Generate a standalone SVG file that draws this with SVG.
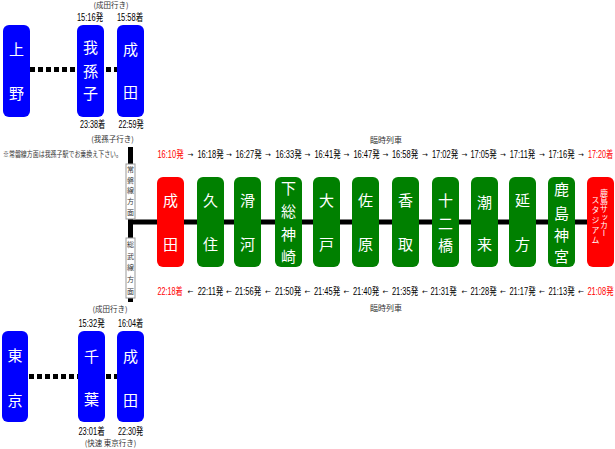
<svg xmlns="http://www.w3.org/2000/svg" width="615" height="449" viewBox="0 0 615 449">
<style>
.blue{fill:#0000ff}
.green{fill:#008000}
.red{fill:#ff0000}
.st{font-family:"Noto Sans CJK JP",sans-serif;font-size:15px;fill:#fff;text-anchor:middle}
.tm{font-family:"Liberation Sans","Noto Sans CJK JP",sans-serif;font-size:10px;fill:#000;text-anchor:middle}
.rt{fill:#ff0000}
.ar{font-family:"DejaVu Sans",sans-serif;font-size:7px;fill:#000;text-anchor:middle}
.note{font-family:"Noto Sans CJK JP",sans-serif;font-size:7.5px;fill:#333;text-anchor:middle}
.line{stroke:#000;stroke-width:5;fill:none}
.dot{stroke:#000;stroke-width:5;stroke-dasharray:5 3;fill:none}
.lbl{fill:#fff;stroke:#999;stroke-width:1}
.vt{font-family:"Noto Sans CJK JP",sans-serif;font-size:7px;fill:#333;writing-mode:vertical-rl}
.vs{font-family:"Noto Sans CJK JP",sans-serif;font-size:8px;fill:#fff;writing-mode:vertical-rl}
</style>
<rect width="615" height="449" fill="#fff"/>
<g id="connectors">
<line class="dot" x1="30" y1="69.5" x2="78" y2="69.5"/>
<line class="dot" x1="106" y1="69.5" x2="117" y2="69.5"/>
<line class="dot" x1="29" y1="376.5" x2="78" y2="376.5"/>
<line class="dot" x1="106" y1="376.5" x2="117" y2="376.5"/>
<line class="line" x1="130.5" y1="147" x2="130.5" y2="302"/>
<line class="line" x1="130.5" y1="222" x2="590" y2="222"/>
</g>
<g id="note-top">
<text class="note" x="111" y="8">(成田行き)</text>
<text class="tm" transform="translate(90 21) scale(0.75 1)">15:16発</text>
<text class="tm" transform="translate(130 21) scale(0.75 1)">15:58着</text>
<text class="tm" transform="translate(92.5 128) scale(0.72 1)">23:38着</text>
<text class="tm" transform="translate(131 128) scale(0.72 1)">22:59発</text>
<text class="note" x="112.5" y="142">(我孫子行き)</text>
<text class="note" x="3" y="157" style="text-anchor:start" textLength="119" lengthAdjust="spacingAndGlyphs">※常磐線方面は我孫子駅でお乗換え下さい。</text>
</g>
<g id="ueno"><rect class="blue" x="3" y="25" width="27" height="92" rx="6"/><text class="st"><tspan x="16.5" y="55">上</tspan><tspan x="16.5" y="99">野</tspan></text></g>
<g id="abiko"><rect class="blue" x="77" y="25" width="27" height="92" rx="6"/><text class="st"><tspan x="90.5" y="53">我</tspan><tspan x="90.5" y="77">孫</tspan><tspan x="90.5" y="99">子</tspan></text></g>
<g id="narita-top"><rect class="blue" x="117" y="25" width="27" height="92" rx="6"/><text class="st"><tspan x="130.5" y="55">成</tspan><tspan x="130.5" y="98">田</tspan></text></g>
<g id="joban-label"><rect class="lbl" x="126" y="164" width="9" height="55"/><text class="vt" x="130.5" y="166" style="letter-spacing:3.6px">常磐線方面</text></g>
<g id="sobu-label"><rect class="lbl" x="126" y="238" width="9" height="60"/><text class="vt" x="130.5" y="241" style="letter-spacing:4.6px">総武線方面</text></g>
<g id="rinji-top"><text class="note" x="386" y="143" style="font-size:8px">臨時列車</text></g>
<g id="times-top">
<text class="tm rt" transform="translate(170.5 158) scale(0.75 1)">16:10発</text>
<text class="tm" transform="translate(210.5 158) scale(0.75 1)">16:18発</text>
<text class="tm" transform="translate(248.5 158) scale(0.75 1)">16:27発</text>
<text class="tm" transform="translate(288.5 158) scale(0.75 1)">16:33発</text>
<text class="tm" transform="translate(327.5 158) scale(0.75 1)">16:41発</text>
<text class="tm" transform="translate(366.5 158) scale(0.75 1)">16:47発</text>
<text class="tm" transform="translate(405 158) scale(0.75 1)">16:58発</text>
<text class="tm" transform="translate(445 158) scale(0.75 1)">17:02発</text>
<text class="tm" transform="translate(483.5 158) scale(0.75 1)">17:05発</text>
<text class="tm" transform="translate(522.5 158) scale(0.75 1)">17:11発</text>
<text class="tm" transform="translate(561.5 158) scale(0.75 1)">17:16発</text>
<text class="tm rt" transform="translate(600.5 158) scale(0.72 1)">17:20着</text>
<text class="ar" x="190.5" y="157">→</text><text class="ar" x="229" y="157">→</text><text class="ar" x="268" y="157">→</text><text class="ar" x="307.5" y="157">→</text><text class="ar" x="346.5" y="157">→</text><text class="ar" x="385.5" y="157">→</text><text class="ar" x="425" y="157">→</text><text class="ar" x="464.5" y="157">→</text><text class="ar" x="503" y="157">→</text><text class="ar" x="542" y="157">→</text><text class="ar" x="581" y="157">→</text>
</g>
<g id="st-narita"><rect class="red" x="157" y="177" width="27" height="90" rx="6"/><text class="st"><tspan x="170.5" y="206">成</tspan><tspan x="170.5" y="250">田</tspan></text></g>
<g id="st-kuzumi"><rect class="green" x="197" y="177" width="27" height="90" rx="6"/><text class="st"><tspan x="210.5" y="206">久</tspan><tspan x="210.5" y="250">住</tspan></text></g>
<g id="st-namegawa"><rect class="green" x="234" y="177" width="27" height="90" rx="6"/><text class="st"><tspan x="247.5" y="206">滑</tspan><tspan x="247.5" y="250">河</tspan></text></g>
<g id="st-shimofusakozaki"><rect class="green" x="275" y="177" width="27" height="90" rx="6"/><text class="st"><tspan x="288.5" y="194">下</tspan><tspan x="288.5" y="217">総</tspan><tspan x="288.5" y="240">神</tspan><tspan x="288.5" y="262">崎</tspan></text></g>
<g id="st-omado"><rect class="green" x="313" y="177" width="27" height="90" rx="6"/><text class="st"><tspan x="326.5" y="206">大</tspan><tspan x="326.5" y="250">戸</tspan></text></g>
<g id="st-sawara"><rect class="green" x="352" y="177" width="27" height="90" rx="6"/><text class="st"><tspan x="365.5" y="206">佐</tspan><tspan x="365.5" y="250">原</tspan></text></g>
<g id="st-katori"><rect class="green" x="392" y="177" width="27" height="90" rx="6"/><text class="st"><tspan x="405.5" y="206">香</tspan><tspan x="405.5" y="250">取</tspan></text></g>
<g id="st-junikyo"><rect class="green" x="432" y="177" width="27" height="90" rx="6"/><text class="st"><tspan x="445.5" y="206">十</tspan><tspan x="445.5" y="229">二</tspan><tspan x="445.5" y="251">橋</tspan></text></g>
<g id="st-itako"><rect class="green" x="471" y="177" width="27" height="90" rx="6"/><text class="st"><tspan x="484.5" y="208">潮</tspan><tspan x="484.5" y="250">来</tspan></text></g>
<g id="st-nobukata"><rect class="green" x="509" y="177" width="27" height="90" rx="6"/><text class="st"><tspan x="522.5" y="206">延</tspan><tspan x="522.5" y="250">方</tspan></text></g>
<g id="st-kashimajingu"><rect class="green" x="548" y="177" width="27" height="90" rx="6"/><text class="st"><tspan x="561.5" y="195">鹿</tspan><tspan x="561.5" y="219">島</tspan><tspan x="561.5" y="241">神</tspan><tspan x="561.5" y="262">宮</tspan></text></g>
<g id="st-kashimasoccerstadium"><rect class="red" x="587" y="177" width="27" height="90" rx="6"/><text class="vs" x="604" y="189">鹿島サッカー</text><text class="vs" x="595.5" y="196" style="letter-spacing:2px">スタジアム</text></g>
<g id="times-bottom">
<text class="tm rt" transform="translate(170 295) scale(0.72 1)">22:18着</text>
<text class="tm" transform="translate(210.5 295) scale(0.75 1)">22:11発</text>
<text class="tm" transform="translate(248 295) scale(0.75 1)">21:56発</text>
<text class="tm" transform="translate(288 295) scale(0.75 1)">21:50発</text>
<text class="tm" transform="translate(327 295) scale(0.75 1)">21:45発</text>
<text class="tm" transform="translate(366 295) scale(0.75 1)">21:40発</text>
<text class="tm" transform="translate(405 295) scale(0.75 1)">21:35発</text>
<text class="tm" transform="translate(443.5 295) scale(0.75 1)">21:31発</text>
<text class="tm" transform="translate(483.5 295) scale(0.75 1)">21:28発</text>
<text class="tm" transform="translate(522.5 295) scale(0.75 1)">21:17発</text>
<text class="tm" transform="translate(561.5 295) scale(0.75 1)">21:13発</text>
<text class="tm rt" transform="translate(600.5 295) scale(0.75 1)">21:08発</text>
<text class="ar" x="190.5" y="294">←</text><text class="ar" x="229" y="294">←</text><text class="ar" x="268" y="294">←</text><text class="ar" x="307.5" y="294">←</text><text class="ar" x="346.5" y="294">←</text><text class="ar" x="385.5" y="294">←</text><text class="ar" x="425" y="294">←</text><text class="ar" x="464.5" y="294">←</text><text class="ar" x="503" y="294">←</text><text class="ar" x="542" y="294">←</text><text class="ar" x="581" y="294">←</text>
</g>
<g id="rinji-bottom"><text class="note" x="386" y="311" style="font-size:8px">臨時列車</text></g>
<g id="note-bottom">
<text class="note" x="110" y="312">(成田行き)</text>
<text class="tm" transform="translate(91.5 327) scale(0.75 1)">15:32発</text>
<text class="tm" transform="translate(130.5 327) scale(0.72 1)">16:04着</text>
<text class="tm" transform="translate(91.5 435) scale(0.75 1)">23:01着</text>
<text class="tm" transform="translate(130.5 435) scale(0.72 1)">22:30発</text>
<text class="note" x="110.5" y="446">(快速 東京行き)</text>
</g>
<g id="tokyo"><rect class="blue" x="2" y="331" width="26" height="91" rx="6"/><text class="st"><tspan x="15" y="361">東</tspan><tspan x="15" y="406">京</tspan></text></g>
<g id="chiba"><rect class="blue" x="78" y="331" width="27" height="91" rx="6"/><text class="st"><tspan x="91.5" y="362">千</tspan><tspan x="91.5" y="405">葉</tspan></text></g>
<g id="narita-bottom"><rect class="blue" x="117" y="331" width="27" height="91" rx="6"/><text class="st"><tspan x="130.5" y="362">成</tspan><tspan x="130.5" y="406">田</tspan></text></g>
</svg>
